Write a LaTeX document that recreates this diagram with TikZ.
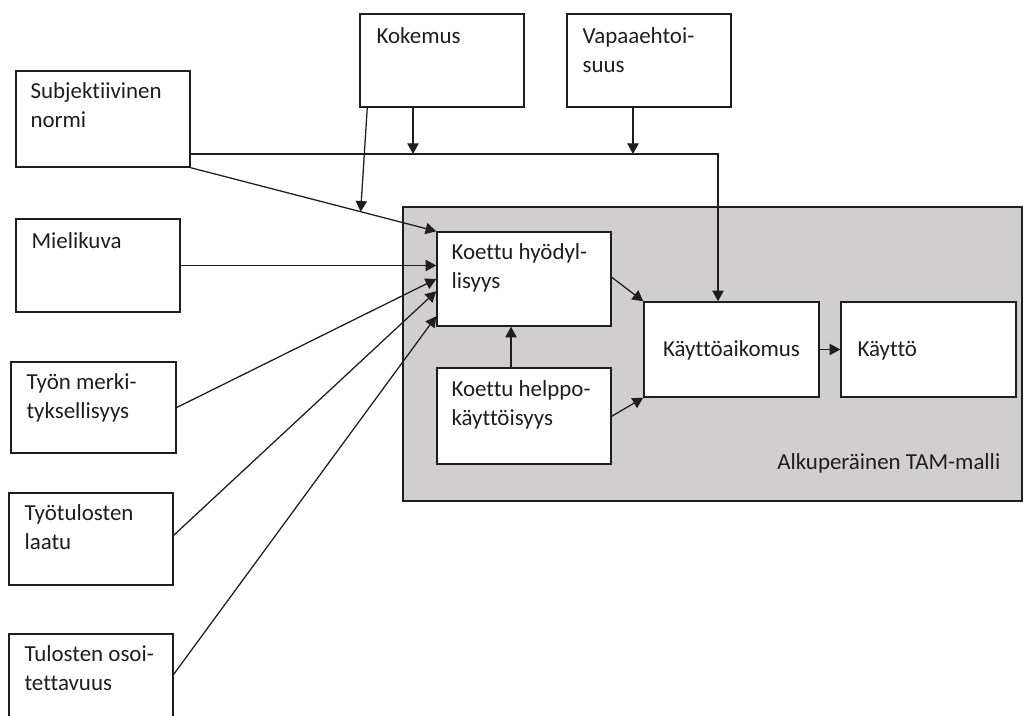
\documentclass[tikz,border=0pt]{standalone}
\usepackage{fontspec}
\setmainfont{Carlito}[Ligatures=NoCommon]
\usetikzlibrary{arrows.meta,fit,calc}
\definecolor{panel}{RGB}{208,206,206}
\definecolor{ink}{RGB}{30,30,30}
% stacked lines whose baseline is that of the first line
\newcommand\lines[1]{\begin{tabular}[t]{@{}l@{}}#1\end{tabular}}
\begin{document}
\begin{tikzpicture}[x=0.75pt,y=-0.75pt,
  box/.style={draw=ink, line width=1.1pt, fill=white, inner sep=0pt},
  panelbox/.style={draw=ink, line width=1.1pt, fill=panel, inner sep=0pt},
  lbl/.style={inner sep=0pt, text=ink, font=\fontsize{17.2}{21.75}\selectfont},
  conn/.style={draw=ink, line width=0.95pt},
  arr/.style={conn, -{Triangle[length=8pt,width=8.5pt]}}]
\clip (0,0) rectangle (1029,716);
\fill[white] (0,0) rectangle (1029,716);

% original TAM model panel
\node[panelbox, fit={(403,207) (1022,501)}] (tam) {};
\node[lbl, anchor=base west] (tam-t) at (777,470) {Alkuperäinen TAM-malli};

% boxes
\node[box, fit={(16,71) (190,167)}]   (sub) {};
\node[box, fit={(360,14) (524,107)}]  (kok) {};
\node[box, fit={(567,14) (731,107)}]  (vap) {};
\node[box, fit={(16,219) (180,312)}]  (mie) {};
\node[box, fit={(11,362) (176,453)}]  (tyon) {};
\node[box, fit={(9,493) (173,585)}]   (tyot) {};
\node[box, fit={(9,634) (173,740)}]   (tul) {};
\node[box, fit={(437,232) (611,326)}] (hyo) {};
\node[box, fit={(437,368) (611,464)}] (hel) {};
\node[box, fit={(644,302) (819,397)}] (aik) {};
\node[box, fit={(841,302) (1016,397)}] (kay) {};

% labels
\node[lbl, anchor=base west] (sub-t)  at ([shift={(15,28)}]sub.north west)  {\lines{Subjektiivinen\\normi}};
\node[lbl, anchor=base west] (kok-t)  at ([shift={(17,30)}]kok.north west)  {Kokemus};
\node[lbl, anchor=base west] (vap-t)  at ([shift={(16,30)}]vap.north west)  {\lines{Vapaaehtoi-\\suus}};
\node[lbl, anchor=base west] (mie-t)  at ([shift={(16,30)}]mie.north west)  {Mielikuva};
\node[lbl, anchor=base west] (tyon-t) at ([shift={(16,28)}]tyon.north west) {\lines{Työn merki-\\tyksellisyys}};
\node[lbl, anchor=base west] (tyot-t) at ([shift={(16,28)}]tyot.north west) {\lines{Työtulosten\\laatu}};
\node[lbl, anchor=base west] (tul-t)  at ([shift={(16,28)}]tul.north west)  {\lines{Tulosten osoi-\\tettavuus}};
\node[lbl, anchor=base west] (hyo-t)  at ([shift={(15,28)}]hyo.north west)  {\lines{Koettu hyödyl-\\lisyys}};
\node[lbl, anchor=base west] (hel-t)  at ([shift={(15,29)}]hel.north west)  {\lines{Koettu helppo-\\käyttöisyys}};
\node[lbl, anchor=base]      (aik-t)  at ([shift={(0,7.5)}]aik.center)      {Käyttöaikomus};
\node[lbl, anchor=base west] (kay-t)  at ([shift={(17,55)}]kay.north west)  {Käyttö};

% junction points on the line from the subjective norm to intention
\coordinate (jy) at (718,154);
\coordinate (kj) at (413,154);
\coordinate (vj) at (633,154);
\coordinate (kt) at ($(sub.south east)!0.692!(hyo.north west)$);

% connectors
\draw[arr] (sub.east |- jy) -- (jy) -- (jy |- aik.north);
\draw[arr] (kj |- kok.south) -- (kj);
\draw[arr] (vj |- vap.south) -- (vj);
\draw[arr] ([shift={(8,0)}]kok.south west) -- (kt);
\draw[arr] (sub.south east) -- (hyo.north west);
\draw[arr] (mie.east) -- (mie.east -| hyo.west);
\draw[arr] (tyon.east) -- (hyo.west);
\draw[arr] ([shift={(0,43)}]tyot.north east) -- ([shift={(0,60)}]hyo.north west);
\draw[arr] ([shift={(0,41)}]tul.north east) -- ([shift={(0,85)}]hyo.north west);
\draw[arr] ([shift={(-13,0)}]hel.north) -- ([shift={(-13,0)}]hyo.south);
\draw[arr] ([shift={(0,46)}]hyo.north east) -- (aik.north west);
\draw[arr] ([shift={(0,49)}]hel.north east) -- (aik.south west);
\draw[arr] (aik.east) -- (kay.west);
\end{tikzpicture}
\end{document}
